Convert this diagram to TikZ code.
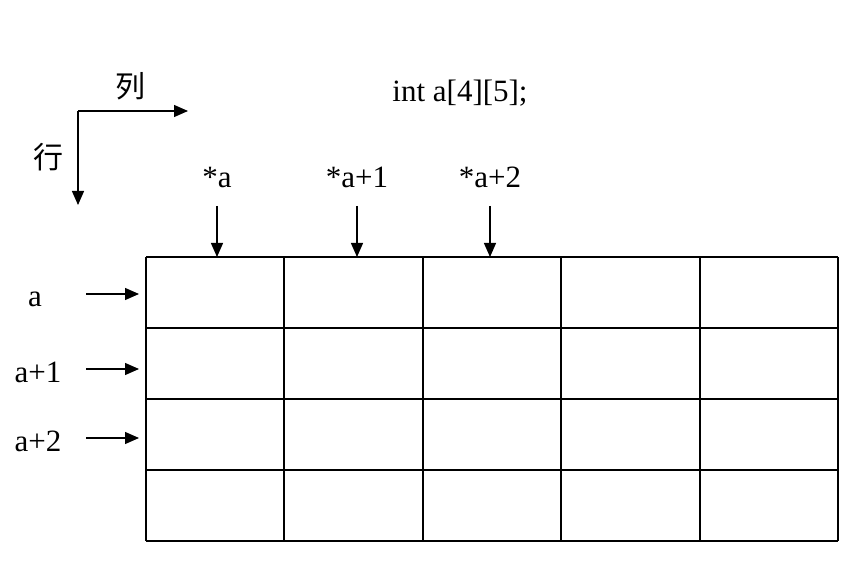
\documentclass[tikz,border=0pt]{standalone}
\usepackage{fontspec}
\setmainfont{Liberation Serif}
\newfontfamily\cjk{Noto Sans CJK SC}
\usetikzlibrary{arrows.meta}

\begin{document}
\begin{tikzpicture}[x=1pt,y=-1pt,
  lbl/.style={font=\fontsize{31}{36}\selectfont, inner sep=0pt},
  hanzi/.style={font=\cjk\fontsize{30}{36}\selectfont, inner sep=0pt},
  ptr/.style={-{Triangle[length=14pt,width=12pt]}, line width=1.3pt},
  cellline/.style={line width=2pt}]
  \useasboundingbox (0,0) rectangle (860,580);

  % Declaration
  \node[lbl] (decl) at (460,93) {int a[4][5];};

  % Axes: row and column directions
  \coordinate (origin) at (78,111);
  \coordinate (colend) at (188,111);
  \coordinate (rowend) at (78,205);
  \draw[ptr] (origin) -- (colend);
  \draw[ptr] (origin) -- (rowend);
  \node[hanzi] (collbl) at (130,86) {列};
  \node[hanzi] (rowlbl) at (48,157) {行};

  % Array cells: 4 rows, 5 columns
  \foreach \c in {0,...,5} {
    \draw[cellline] (146+138.4*\c,257) -- (146+138.4*\c,541);
  }
  \foreach \r in {0,...,4} {
    \draw[cellline] (146,257+71*\r) -- (838,257+71*\r);
  }

  % Column pointers
  \foreach \x/\t [count=\i] in {217/{*a}, 357/{*a+1}, 490/{*a+2}} {
    \node[lbl, anchor=base] (star\i) at (\x,188) {\t};
    \coordinate (coltail\i) at (\x,206);
    \coordinate (colhead\i) at (\x,257);
    \draw[ptr] (coltail\i) -- (colhead\i);
  }

  % Row pointers
  \foreach \x/\y/\t [count=\i] in {35/294/a, 38/369/{a+1}, 38/438/{a+2}} {
    \node[lbl, anchor=base] (row\i) at (\x,\y+13) {\t};
    \coordinate (rowtail\i) at (86,\y);
    \coordinate (rowhead\i) at (139,\y);
    \draw[ptr] (rowtail\i) -- (rowhead\i);
  }

\end{tikzpicture}
\end{document}
